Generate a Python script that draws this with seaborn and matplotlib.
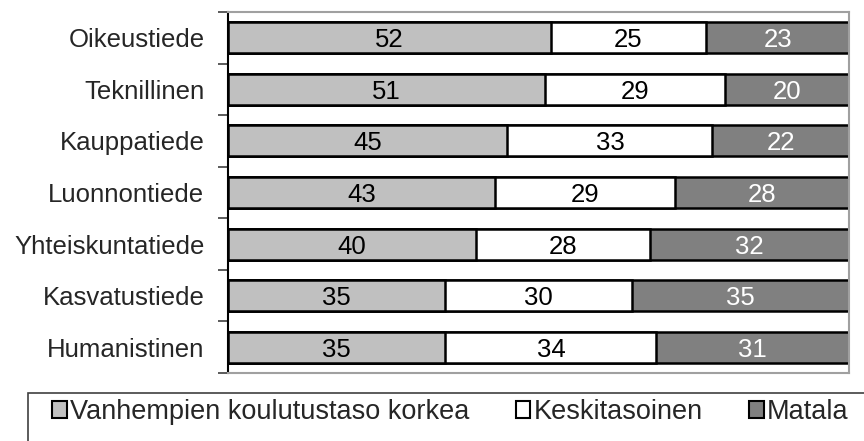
import pandas as pd
import numpy as np
import matplotlib
matplotlib.use('Agg')
import matplotlib.pyplot as plt
import matplotlib.patches as mpatches
import seaborn as sns

# data (percent shares)
fields = ['Oikeustiede', 'Teknillinen', 'Kauppatiede', 'Luonnontiede',
          'Yhteiskuntatiede', 'Kasvatustiede', 'Humanistinen']
high = [52, 51, 45, 43, 40, 35, 35]
middle = [25, 29, 33, 29, 28, 30, 34]
low = [23, 20, 22, 28, 32, 35, 31]

series_names = ['Vanhempien koulutustaso korkea', 'Keskitasoinen', 'Matala']
colors = ['#c0c0c0', '#ffffff', '#808080']
text_colors = ['black', 'black', 'white']

df = pd.DataFrame({'field': fields, 'high': high, 'middle': middle, 'low': low})
df['cum_high'] = df['high']
df['cum_mid'] = df['high'] + df['middle']
df['cum_low'] = df['cum_mid'] + df['low']

sns.set_style('white')
plt.rcParams['font.family'] = ['Liberation Sans', 'DejaVu Sans']

fig = plt.figure(figsize=(8.64, 4.41), dpi=100)
ax = fig.add_axes([228 / 864, 1 - 373 / 441, (849 - 228) / 864, (373 - 12) / 441])

# stacked bars drawn as cumulative layers, widest first
for col, color in zip(['cum_low', 'cum_mid', 'cum_high'], colors[::-1]):
    sns.barplot(data=df, x=col, y='field', order=fields, color=color,
                edgecolor='black', linewidth=1.8, width=0.6, ax=ax, orient='h')

# segment labels
starts = [np.zeros(len(fields)), df['cum_high'].values, df['cum_mid'].values]
values = [df['high'].values, df['middle'].values, df['low'].values]
for s, v, tc in zip(starts, values, text_colors):
    for i, (a, b) in enumerate(zip(s, v)):
        ax.text(a + b / 2, i, f'{b}', ha='center', va='center_baseline',
                fontsize=18.5, color=tc)

ax.set_xlim(0, 100)
ax.set_ylim(len(fields) - 0.5, -0.5)
ax.set_xlabel('')
ax.set_ylabel('')
ax.set_xticks([])
ax.tick_params(axis='y', which='major', left=False, length=0, labelsize=18.5, pad=17)
ax.set_yticks(np.arange(-0.5, len(fields)), minor=True)
ax.tick_params(axis='y', which='minor', left=True, length=7, width=1.2,
               color='#404040', direction='out')

ax.spines['left'].set_color('black')
ax.spines['left'].set_linewidth(1.5)
for side in ['top', 'right', 'bottom']:
    ax.spines[side].set_color('#a0a0a0')
    ax.spines[side].set_linewidth(1.5)

# legend in a box that runs off the figure edge
handles = [mpatches.Patch(facecolor=c, edgecolor='black', linewidth=1.5) for c in colors]
fig.legend(handles, series_names, loc='center left',
           bbox_to_anchor=(52 / 864, 1 - 412 / 441), ncol=3, frameon=False,
           fontsize=19.5, handlelength=0.55, handleheight=0.55,
           handletextpad=0.12, columnspacing=1.7, borderpad=0, borderaxespad=0)
box = mpatches.Rectangle((28 / 864, -0.1), 1.1, 1 - 393 / 441 + 0.1,
                         transform=fig.transFigure, fill=False,
                         edgecolor='#404040', linewidth=1.2)
fig.add_artist(box)

fig.savefig('out.png', dpi=100)
